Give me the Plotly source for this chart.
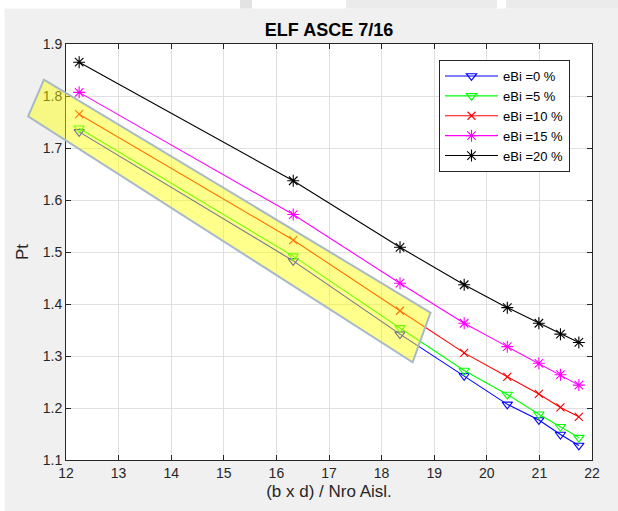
import plotly.graph_objects as go

# Section ratio (b x d) / number of isolators
ratio = [12.25, 16.32, 18.35, 19.57, 20.39, 20.99, 21.40, 21.75]

# Pt for each eccentricity level
pt_e0 = [1.731, 1.483, 1.342, 1.262, 1.207, 1.177, 1.149, 1.128]
pt_e5 = [1.738, 1.492, 1.354, 1.272, 1.226, 1.188, 1.164, 1.143]
pt_e10 = [1.765, 1.523, 1.387, 1.306, 1.260, 1.227, 1.201, 1.183]
pt_e15 = [1.807, 1.572, 1.440, 1.363, 1.318, 1.286, 1.264, 1.244]
pt_e20 = [1.865, 1.637, 1.509, 1.437, 1.393, 1.363, 1.342, 1.326]

series_names = ["eBi =0 %", "eBi =5 %", "eBi =10 %", "eBi =15 %", "eBi =20 %"]
series_values = [pt_e0, pt_e5, pt_e10, pt_e15, pt_e20]
series_colors = ["#0000ff", "#00ff00", "#ff0000", "#ff00ff", "#000000"]
series_symbols = ["triangle-down-open", "triangle-down-open", "x-thin-open",
                  "asterisk-open", "asterisk-open"]
series_sizes = [9, 9, 8, 10, 10]

x_ticks = list(range(12, 23))
y_ticks = [1.1, 1.2, 1.3, 1.4, 1.5, 1.6, 1.7, 1.8, 1.9]
x_range = [12, 22]
y_range = [1.1, 1.9]

# Highlighted band around the lower curves, in data units
band_x = [11.58, 11.28, 18.59, 18.93]
band_y = [1.8315, 1.761, 1.288, 1.3835]

W, H = 618, 511
ML, MR, MT, MB = 66, 26, 44, 51
PW, PH = W - ML - MR, H - MT - MB

FONT = "Liberation Sans, Arial, sans-serif"
AX = "#262626"
GRID = "#dfdfdf"


def px_to_paper(px, py):
    return (px - ML) / PW, (H - MB - py) / PH


def data_to_paper(x, y):
    return ((x - x_range[0]) / (x_range[1] - x_range[0]),
            (y - y_range[0]) / (y_range[1] - y_range[0]))


fig = go.Figure()
for name, vals, col, sym, sz in zip(series_names, series_values, series_colors,
                                    series_symbols, series_sizes):
    fig.add_trace(go.Scatter(
        x=ratio, y=vals, name=name, mode="lines+markers",
        line=dict(color=col, width=1.1),
        marker=dict(symbol=sym, size=sz, color=col, line=dict(color=col, width=1.1)),
    ))

shapes = []


def rect_px(x0, y0, x1, y1, color):
    a = px_to_paper(x0, y1)
    b = px_to_paper(x1, y0)
    shapes.append(dict(type="rect", xref="paper", yref="paper",
                       x0=a[0], y0=a[1], x1=b[0], y1=b[1],
                       fillcolor=color, line=dict(width=0), layer="below"))


# window strip along the top and left edge
rect_px(0, 0, W, 8.5, "#ffffff")
rect_px(0, 0, 4.5, H, "#ffffff")
rect_px(240, 0, 252, 8.5, "#e3e3e3")
rect_px(346, 0, 497, 8.5, "#ecebeb")
rect_px(506, 0, W, 8.5, "#ecebeb")

# plot area background
shapes.append(dict(type="rect", xref="paper", yref="paper", x0=0, y0=0, x1=1, y1=1,
                   fillcolor="#ffffff", line=dict(width=0), layer="below"))

# translucent highlight band
pts = [data_to_paper(x, y) for x, y in zip(band_x, band_y)]
path = "M " + " L ".join(f"{p[0]:.5f},{p[1]:.5f}" for p in pts) + " Z"
shapes.append(dict(type="path", xref="paper", yref="paper", path=path,
                   fillcolor="rgba(255,255,0,0.45)",
                   line=dict(color="#a8b9c6", width=2), layer="above"))

axis_common = dict(
    showline=True, linecolor=AX, linewidth=1, mirror="ticks",
    ticks="inside", ticklen=5, tickcolor=AX, tickwidth=1,
    showgrid=True, gridcolor=GRID, gridwidth=1, zeroline=False,
    tickfont=dict(family=FONT, size=14, color=AX),
)

fig.update_layout(
    width=W, height=H,
    margin=dict(l=ML, r=MR, t=MT, b=MB),
    paper_bgcolor="#f0f0f0", plot_bgcolor="rgba(0,0,0,0)",
    title=dict(text="<b>ELF ASCE 7/16</b>", x=(ML + PW / 2) / W, xanchor="center",
               y=1 - 30 / H, yanchor="middle",
               font=dict(family=FONT, size=18, color="#000000")),
    xaxis=dict(range=x_range, tickvals=x_ticks, **axis_common,
               title=dict(text="(b x d) / Nro Aisl.", standoff=5,
                          font=dict(family=FONT, size=17, color=AX))),
    yaxis=dict(range=y_range, tickvals=y_ticks, tickformat=".1f", **axis_common,
               title=dict(text="Pt", standoff=9,
                          font=dict(family=FONT, size=17, color=AX))),
    legend=dict(x=px_to_paper(439, 60)[0], y=px_to_paper(439, 60)[1],
                xanchor="left", yanchor="top",
                bgcolor="#ffffff", bordercolor=AX, borderwidth=1,
                font=dict(family=FONT, size=13, color="#000000"),
                itemwidth=53, tracegroupgap=0),
    shapes=shapes,
    showlegend=True,
)

fig.write_html("out.html")
